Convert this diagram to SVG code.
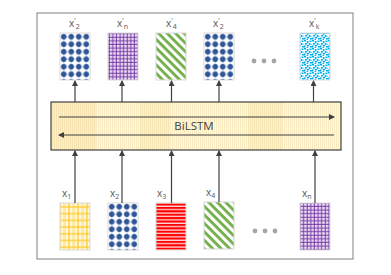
<svg xmlns="http://www.w3.org/2000/svg" width="391" height="275" viewBox="0 0 391 275">
<style>
.lbl{font-family:"Open Sans","Liberation Sans",sans-serif;font-size:10px;fill:#595959}
.sub{font-size:7px}
.box{stroke:#D9D9D9;stroke-width:1}
.conn{stroke:#404040;stroke-width:1.2;fill:none}
.dot{fill:#A6A6A6}
</style>
<defs>
<marker id="ah" markerWidth="6" markerHeight="6" refX="5" refY="3" orient="auto" markerUnits="userSpaceOnUse">
<path d="M0,0 L6,3 L0,6 Z" fill="#404040"/>
</marker>
<pattern id="pDots" width="7.5" height="7.5" patternUnits="userSpaceOnUse" x="60" y="33">
<rect width="7.5" height="7.5" fill="#fff"/>
<path d="M3.75,0V7.5M0,3.75H7.5" stroke="#8FA9D6" stroke-width="0.7"/>
<circle cx="3.75" cy="3.75" r="2.7" fill="#2F5597"/>
</pattern>
<pattern id="pDots2" width="7.5" height="7.5" patternUnits="userSpaceOnUse" x="204" y="33">
<rect width="7.5" height="7.5" fill="#fff"/>
<path d="M3.75,0V7.5M0,3.75H7.5" stroke="#8FA9D6" stroke-width="0.7"/>
<circle cx="3.75" cy="3.75" r="2.7" fill="#2F5597"/>
</pattern>
<pattern id="pDots3" width="7.5" height="7.5" patternUnits="userSpaceOnUse" x="108" y="203">
<rect width="7.5" height="7.5" fill="#fff"/>
<path d="M3.75,0V7.5M0,3.75H7.5" stroke="#8FA9D6" stroke-width="0.7"/>
<circle cx="3.75" cy="3.75" r="2.7" fill="#2F5597"/>
</pattern>
<pattern id="pPurple" width="3.6" height="3.6" patternUnits="userSpaceOnUse">
<rect width="3.6" height="3.6" fill="#E8D9F2"/>
<path d="M1.2,0V3.6M0,1.2H3.6" stroke="#7030A0" stroke-width="0.9"/>
</pattern>
<pattern id="pGreen" width="6" height="6" patternUnits="userSpaceOnUse" patternTransform="rotate(45)">
<rect width="6" height="6" fill="#fff"/>
<rect width="6" height="2.8" fill="#70AD47"/>
</pattern>
<pattern id="pYellow" width="9" height="6.7" patternUnits="userSpaceOnUse" x="59" y="206">
<rect width="9" height="6.7" fill="#FFF7DC"/>
<rect x="4" width="3" height="6.7" fill="#FFE9A8"/>
<path d="M1,0V6.7M0,1H9" stroke="#FFC000" stroke-width="1"/>
</pattern>
<pattern id="pRed" width="4" height="3.4" patternUnits="userSpaceOnUse" y="203.5">
<rect width="4" height="3.4" fill="#FFD9D9"/>
<rect width="4" height="2.1" fill="#FF0000"/>
</pattern>
<pattern id="pCyan" width="8" height="8" patternUnits="userSpaceOnUse">
<rect width="8" height="8" fill="#fff"/>
<g fill="#00B0F0">
<rect x="0" y="0" width="2" height="1.5"/><rect x="3" y="1" width="1.5" height="2"/>
<rect x="5.5" y="0.5" width="2" height="1.5"/><rect x="1" y="3" width="2" height="1.5"/>
<rect x="5" y="3" width="1.5" height="2"/><rect x="0" y="5.5" width="1.5" height="2"/>
<rect x="3" y="5" width="2" height="1.5"/><rect x="6" y="6" width="2" height="1.5"/>
<rect x="2.5" y="7" width="1.5" height="1"/>
</g>
<g fill="#7FD6F7">
<rect x="2" y="1.5" width="1" height="1"/><rect x="4" y="3.5" width="1" height="1"/><rect x="7" y="4" width="1" height="1"/><rect x="1.5" y="5" width="1" height="1"/>
</g>
</pattern>
<pattern id="pLstm" width="2" height="4" patternUnits="userSpaceOnUse">
<rect width="2" height="4" fill="#FEF9E8"/>
<rect width="1" height="4" fill="#F8EBC2"/>
</pattern>
</defs>
<rect width="391" height="275" fill="#fff"/>
<rect x="37" y="13" width="316" height="246" fill="none" stroke="#808080" stroke-width="1"/>

<g id="lstm">
<rect x="51" y="102" width="290" height="48" fill="url(#pLstm)"/>
<rect x="51" y="102" width="45" height="48" fill="#E8C96A" opacity="0.18"/>
<rect x="140" y="102" width="30" height="48" fill="#E8C96A" opacity="0.14"/>
<rect x="248" y="102" width="35" height="48" fill="#E8C96A" opacity="0.14"/>
<rect x="51" y="102" width="290" height="48" fill="none" stroke="#404040" stroke-width="1.2"/>
<line x1="59" y1="117" x2="334" y2="117" class="conn" stroke-width="1.5" marker-end="url(#ah)"/>
<line x1="334" y1="135" x2="59" y2="135" class="conn" stroke-width="1.5" marker-end="url(#ah)"/>
<text x="194" y="130" text-anchor="middle" font-family="'Open Sans','Liberation Sans',sans-serif" font-size="11.5" fill="#404040">BiLSTM</text>
</g>

<g id="out1"><rect x="60" y="33" width="30" height="47" fill="url(#pDots)" class="box"/>
<text x="69" y="27" class="lbl">x<tspan dy="-4" class="sub">'</tspan><tspan dy="6" class="sub">2</tspan></text></g>
<g id="out2"><rect x="108" y="33" width="30" height="47" fill="url(#pPurple)" class="box"/>
<text x="117" y="27" class="lbl">x<tspan dy="-4" class="sub">'</tspan><tspan dy="6" class="sub">n</tspan></text></g>
<g id="out3"><rect x="156" y="33" width="30" height="47" fill="url(#pGreen)" class="box"/>
<text x="166" y="27" class="lbl">x<tspan dy="-4" class="sub">'</tspan><tspan dy="6" class="sub">4</tspan></text></g>
<g id="out4"><rect x="204" y="33" width="30" height="47" fill="url(#pDots2)" class="box"/>
<text x="213" y="27" class="lbl">x<tspan dy="-4" class="sub">'</tspan><tspan dy="6" class="sub">2</tspan></text></g>
<g id="outdots"><circle cx="254" cy="61" r="2.4" class="dot"/><circle cx="264" cy="61" r="2.4" class="dot"/><circle cx="274" cy="61" r="2.4" class="dot"/></g>
<g id="out5"><rect x="300" y="33" width="30" height="47" fill="url(#pCyan)" class="box"/>
<text x="309" y="27" class="lbl">x<tspan dy="-4" class="sub">'</tspan><tspan dy="6" class="sub">k</tspan></text></g>

<g id="in1"><rect x="60" y="203" width="30" height="47" fill="url(#pYellow)" class="box"/>
<text x="62" y="197" class="lbl">x<tspan dy="2" class="sub">1</tspan></text></g>
<g id="in2"><rect x="108" y="203" width="30" height="47" fill="url(#pDots3)" class="box"/>
<text x="110" y="197" class="lbl">x<tspan dy="2" class="sub">2</tspan></text></g>
<g id="in3"><rect x="156" y="203" width="30" height="47" fill="url(#pRed)" class="box"/>
<text x="157" y="197" class="lbl">x<tspan dy="2" class="sub">3</tspan></text></g>
<g id="in4"><rect x="204" y="202" width="30" height="47" fill="url(#pGreen)" class="box"/>
<text x="206" y="196" class="lbl">x<tspan dy="2" class="sub">4</tspan></text></g>
<g id="indots"><circle cx="255" cy="231" r="2.4" class="dot"/><circle cx="265" cy="231" r="2.4" class="dot"/><circle cx="275" cy="231" r="2.4" class="dot"/></g>
<g id="in5"><rect x="300" y="203" width="30" height="47" fill="url(#pPurple)" class="box"/>
<text x="302" y="197" class="lbl">x<tspan dy="2" class="sub">n</tspan></text></g>

<g id="connectors">
<line x1="75" y1="102" x2="75" y2="81" class="conn" marker-end="url(#ah)"/>
<line x1="122" y1="102" x2="122" y2="81" class="conn" marker-end="url(#ah)"/>
<line x1="171.5" y1="102" x2="171.5" y2="81" class="conn" marker-end="url(#ah)"/>
<line x1="219" y1="102" x2="219" y2="81" class="conn" marker-end="url(#ah)"/>
<line x1="313.5" y1="102" x2="313.5" y2="81" class="conn" marker-end="url(#ah)"/>
<line x1="75" y1="203" x2="75" y2="151" class="conn" marker-end="url(#ah)"/>
<line x1="122" y1="203" x2="122" y2="151" class="conn" marker-end="url(#ah)"/>
<line x1="171.5" y1="203" x2="171.5" y2="151" class="conn" marker-end="url(#ah)"/>
<line x1="219" y1="202" x2="219" y2="151" class="conn" marker-end="url(#ah)"/>
<line x1="315" y1="203" x2="315" y2="151" class="conn" marker-end="url(#ah)"/>
</g>
</svg>
